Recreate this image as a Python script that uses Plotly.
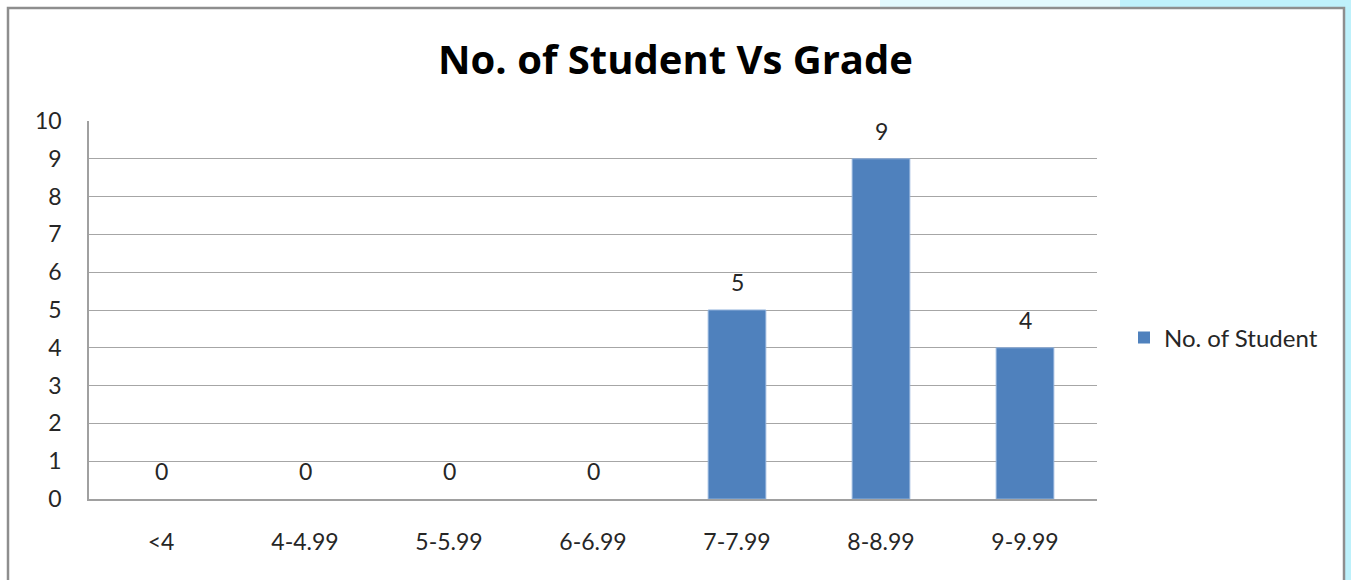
import plotly.graph_objects as go

grades = ["<4", "4-4.99", "5-5.99", "6-6.99", "7-7.99", "8-8.99", "9-9.99"]
students = [0, 0, 0, 0, 5, 9, 4]
y_ticks = list(range(0, 11))

FONT = "Lato, Open Sans, sans-serif"
TITLE_FONT = "Open Sans, Lato, sans-serif"
W, H = 1351, 580
# plot area in pixels
L, R, T, B = 89, 1097, 121, 499
PW, PH = R - L, B - T


def px_x(px):
    return (px - L) / PW


def px_y(py):
    return (B - py) / PH


fig = go.Figure(
    go.Bar(
        x=grades,
        y=students,
        name="No. of Student",
        marker=dict(
            color="#4f81bd",
            line=dict(color="#8fb0da", width=[1 if v > 0 else 0 for v in students]),
        ),
        showlegend=True,
    )
)

# value labels above each bar
for g, v in zip(grades, students):
    fig.add_annotation(
        x=g, y=v, text=str(v), showarrow=False,
        yanchor="bottom", yshift=12,
        font=dict(family=FONT, size=23, color="#262626"),
    )

# light sky backdrop peeking round the top-right corner of the frame
fig.add_shape(type="rect", xref="paper", yref="paper",
              x0=px_x(1345), x1=px_x(1352), y0=px_y(582), y1=px_y(-2),
              fillcolor="#bdf1fb", line=dict(width=0), layer="below")
fig.add_shape(type="rect", xref="paper", yref="paper",
              x0=px_x(1120), x1=px_x(1352), y0=px_y(7), y1=px_y(-2),
              fillcolor="#bff1fb", line=dict(width=0), layer="below")
fig.add_shape(type="rect", xref="paper", yref="paper",
              x0=px_x(880), x1=px_x(1120), y0=px_y(7), y1=px_y(-2),
              fillcolor="#e2f9fd", line=dict(width=0), layer="below")
# chart frame
fig.add_shape(type="rect", xref="paper", yref="paper",
              x0=px_x(8), x1=px_x(1344), y0=px_y(600), y1=px_y(8),
              fillcolor="rgba(0,0,0,0)", line=dict(color="#8e8e8e", width=2.5))

fig.update_layout(
    width=W, height=H,
    margin=dict(l=L, r=W - R, t=T, b=H - B),
    paper_bgcolor="white",
    plot_bgcolor="white",
    bargap=0.6,
    title=dict(
        text="<b>No. of Student Vs Grade</b>",
        x=0.5, xanchor="center",
        y=1 - 60 / H, yanchor="middle",
        font=dict(family=TITLE_FONT, size=40, color="#000000"),
    ),
    legend=dict(
        x=px_x(1124), xanchor="left",
        y=px_y(338), yanchor="middle",
        font=dict(family=FONT, size=24, color="#262626"),
        itemwidth=30,
        bgcolor="rgba(0,0,0,0)",
    ),
    xaxis=dict(
        showgrid=False,
        showline=True, linecolor="#a0a0a0", linewidth=1.5,
        ticks="",
        ticklabelstandoff=22,
        tickfont=dict(family=FONT, size=23, color="#262626"),
    ),
    yaxis=dict(
        range=[0, 10],
        tickvals=y_ticks,
        showgrid=True, gridcolor="#a6a6a6", gridwidth=1.2,
        showline=True, linecolor="#a0a0a0", linewidth=1.5,
        zeroline=False,
        ticks="",
        ticklabelstandoff=21,
        tickfont=dict(family=FONT, size=23, color="#262626"),
    ),
)

fig.write_html("out.html")
